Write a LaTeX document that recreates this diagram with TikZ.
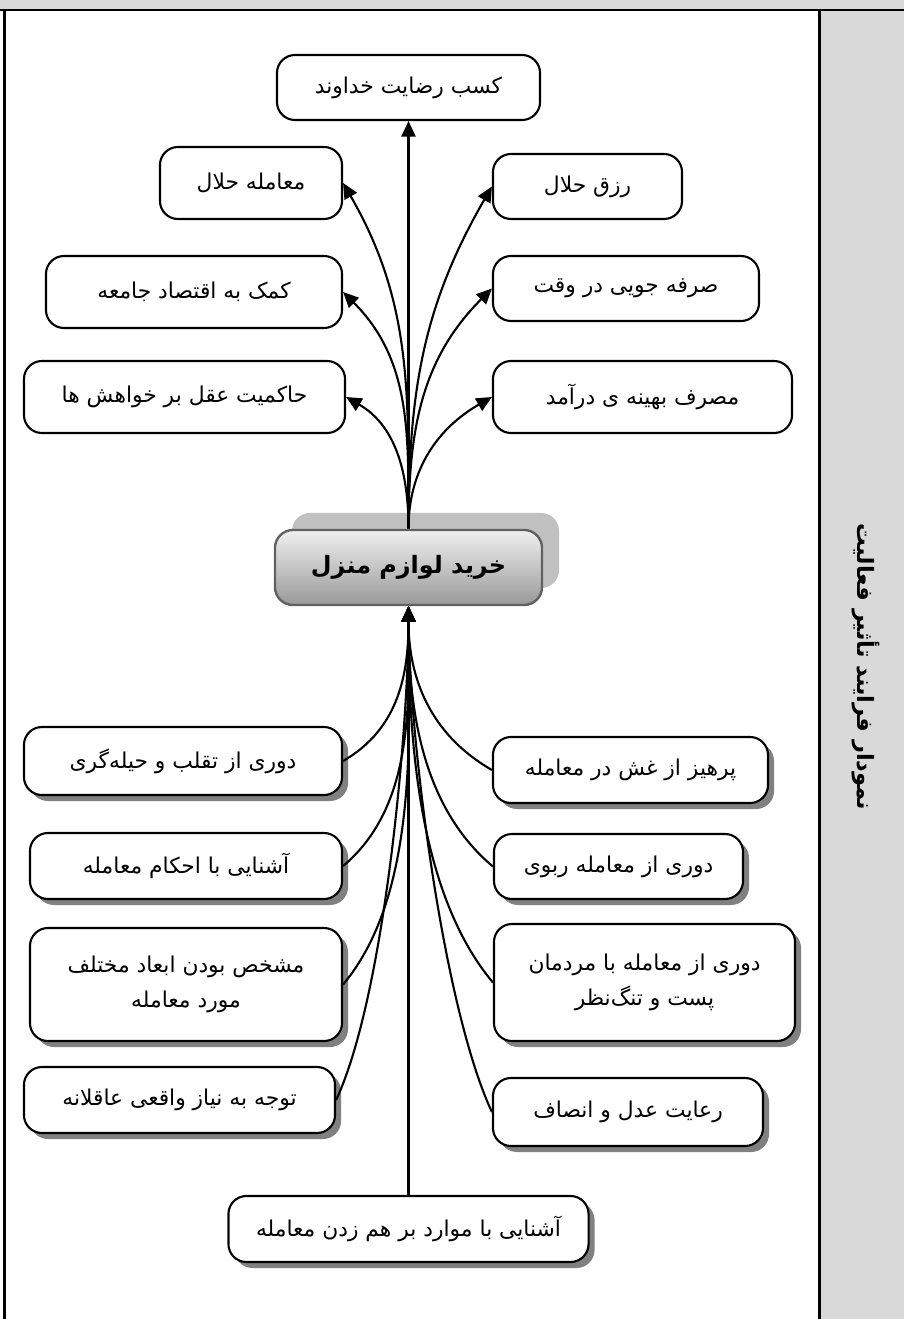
\documentclass[tikz,border=0pt]{standalone}
\usepackage{fontspec}
\newfontfamily\arabicfont[Script=Arabic]{DejaVu Sans}
\TeXXeTstate=1
\usetikzlibrary{arrows.meta,shadows}
\definecolor{panel}{HTML}{D9D9D9}
\definecolor{hubback}{HTML}{C0C0C0}
\newcommand{\fatext}[1]{\beginR #1\endR}

\begin{document}
\begin{tikzpicture}[x=0.025cm, y=0.025cm,
  goalbox/.style={draw, line width=1.5pt, rounded corners=0.45cm, fill=white,
    inner sep=0pt, align=center,
    font=\arabicfont\fontsize{15.5}{25}\selectfont},
  shadebox/.style={goalbox, drop shadow={shadow xshift=0.15cm,
    shadow yshift=-0.15cm, fill=black!50, opacity=1}},
  hubbox/.style={draw=black!62, line width=1.7pt, rounded corners=0.45cm,
    top color=white!94!black, bottom color=black!40, inner sep=0pt,
    font=\arabicfont\bfseries\fontsize{17}{20}\selectfont,
    drop shadow={shadow xshift=0.425cm, shadow yshift=0.425cm,
      fill=hubback, opacity=1}},
  conn/.style={line width=1.5pt, -{Triangle[length=11pt,width=10pt]}}]

\useasboundingbox (0,0) rectangle (904,-1319);

% ---- frame and side panel
\fill[panel] (0,0) rectangle (904,-9);
\fill[panel] (819.5,-10) rectangle (904,-1319);
\draw[line width=1.8pt] (0,-10) -- (904,-10);
\draw[line width=1.8pt] (4.7,-10) -- (4.7,-1319);
\draw[line width=1.8pt] (819.5,-10) -- (819.5,-1319);

\node[rotate=-90, font=\arabicfont\bfseries\fontsize{16}{18}\selectfont]
  (title) at (866,-667) {\fatext{نمودار فرایند تأثیر فعالیت}};

% ---- central node
\node[hubbox, minimum width=6.675cm, minimum height=1.875cm] (hub)
  at (408.5,-567.5) {\fatext{خرید لوازم منزل}};

% ---- outcomes (above), name/x/y/width/height/text
\foreach \nm/\cx/\cy/\w/\h/\txt in {%
  rida/408.5/87.5/6.575/1.625/{کسب رضایت خداوند},
  halal/251/183/4.55/1.8/{معامله حلال},
  komak/194/292/7.4/1.8/{کمک به اقتصاد جامعه},
  hakem/184.5/397/8.025/1.8/{حاکمیت عقل بر خواهش ها},
  rezgh/587.5/186.5/4.725/1.625/{رزق حلال},
  sarfe/626/288.5/6.65/1.625/{صرفه جویی در وقت},
  masraf/642.5/397/7.475/1.8/{مصرف بهینه ی درآمد}%
}{
  \node[goalbox, minimum width=\w cm, minimum height=\h cm] (\nm)
    at (\cx,-\cy) {\fatext{\txt}};
}

% ---- conditions (below), same fields
\foreach \nm/\cx/\cy/\w/\h/\txt in {%
  taghal/183/761/7.95/1.7/{\fatext{دوری از تقلب و حیله‌گری}},
  ahkam/186/866/7.8/1.65/{\fatext{آشنایی با احکام معامله}},
  moshakh/186/984.5/7.8/2.825/{\fatext{مشخص بودن ابعاد مختلف}\\\fatext{مورد معامله}},
  tavaj/179.5/1100/7.775/1.65/{\fatext{توجه به نیاز واقعی عاقلانه}},
  faskh/408.5/1229/9.0/1.65/{\fatext{آشنایی با موارد بر هم زدن معامله}},
  parhiz/630.5/770/6.875/1.65/{\fatext{پرهیز از غش در معامله}},
  reba/618.5/866.5/6.225/1.625/{\fatext{دوری از معامله ربوی}},
  mardom/644.5/982.5/7.525/2.925/{\fatext{دوری از معامله با مردمان}\\\fatext{پست و تنگ‌نظر}},
  adl/628/1112/6.75/1.7/{\fatext{رعایت عدل و انصاف}}%
}{
  \node[shadebox, minimum width=\w cm, minimum height=\h cm] (\nm)
    at (\cx,-\cy) {\txt};
}

% ---- connectors, hub to outcomes
\draw[conn] (hub.north) -- (rida.south);
\foreach \nm/\ang in {halal/-60, komak/-45, hakem/-30}
  \draw[conn] (hub.north) to[out=90, in=\ang] (\nm.east);
\foreach \nm/\ang in {rezgh/-120, sarfe/-135, masraf/-150}
  \draw[conn] (hub.north) to[out=90, in=\ang] (\nm.west);

% ---- connectors, conditions to hub
\draw[conn] (faskh.north) -- (hub.south);
\foreach \nm/\o/\lo in {taghal/30/1, ahkam/40/0.9, moshakh/50/0.8, tavaj/65/0.6}
  \draw[conn] (\nm.east) to[out=\o, in=-90, looseness=\lo] (hub.south);
\foreach \nm/\o/\lo in {parhiz/150/1, reba/140/0.9, mardom/130/0.8, adl/115/0.6}
  \draw[conn] (\nm.west) to[out=\o, in=-90, looseness=\lo] (hub.south);

\end{tikzpicture}
\end{document}
